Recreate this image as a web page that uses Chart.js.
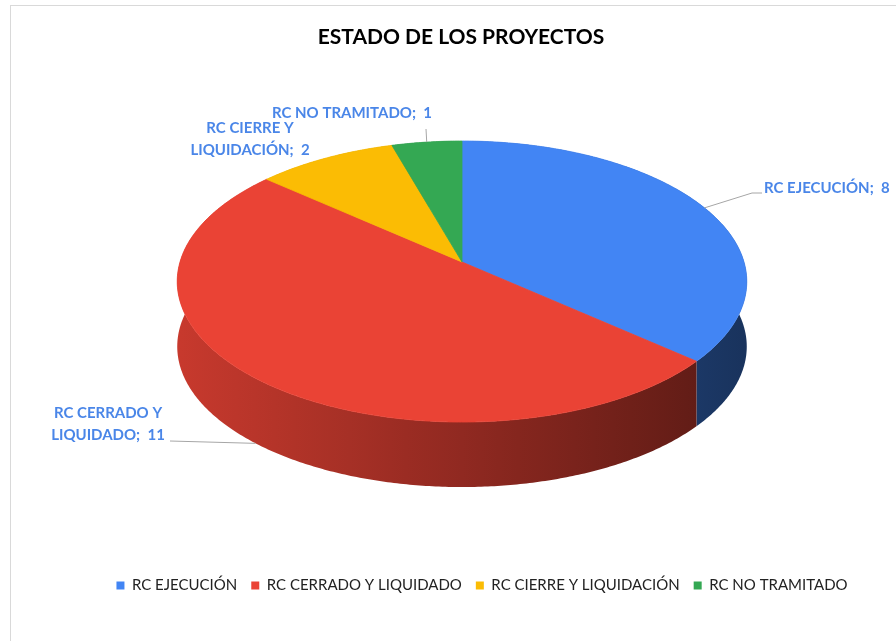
<!DOCTYPE html>
<html>
<head>
<meta charset="utf-8">
<script src="https://cdn.jsdelivr.net/npm/chart.js@4.4.1/dist/chart.umd.min.js"></script>
<style>
html, body { margin: 0; padding: 0; background: #fff; }
#marco { position: absolute; left: 10px; top: 5px; right: 0; bottom: 0; border-left: 1px solid #d9d9d9; border-top: 1px solid #d9d9d9; }
#caja { position: absolute; left: 0; top: 0; width: 896px; height: 641px; }
</style>
</head>
<body>
<div id="marco"></div>
<div id="caja"><canvas id="chart_1"></canvas></div>
<script>
// datos
var categorias = ['RC EJECUCIÓN', 'RC CERRADO Y LIQUIDADO', 'RC CIERRE Y LIQUIDACIÓN', 'RC NO TRAMITADO'];
var proyectos = [8, 11, 2, 1];
var colores = ['#4285f4', '#ea4335', '#fbbc04', '#34a853'];

var fuente = 'Lato, "Liberation Sans", sans-serif';

function oscurecer(hex, f) {
    var r = parseInt(hex.substr(1, 2), 16), g = parseInt(hex.substr(3, 2), 16), b = parseInt(hex.substr(5, 2), 16);
    return 'rgb(' + Math.round(r * f) + ',' + Math.round(g * f) + ',' + Math.round(b * f) + ')';
}

// pastel en 3d: los angulos de cada arco se proyectan sobre un disco inclinado
var pastel3d = {
    id: 'pastel3d',
    punto: function(o, a, abajo) {
        var u = Math.cos(a), v = Math.sin(a);
        var k = 1 / (1 - o.persp * v);
        return [o.cx + o.rx * u * k, o.cy + o.ry * v * k + (abajo ? o.alto : 0)];
    },
    afterLayout: function(chart, args, o) {
        // la leyenda va un poco corrida a la derecha
        if (chart.legend) {
            chart.legend.left += o.corrimientoLeyenda;
            chart.legend.right += o.corrimientoLeyenda;
        }
    },
    beforeDatasetsDraw: function(chart, args, o) {
        var ctx = chart.ctx, self = this;
        var meta = chart.getDatasetMeta(0);
        var bg = chart.data.datasets[0].backgroundColor;
        ctx.save();
        // paredes laterales, con luz desde la izquierda
        meta.data.forEach(function(arc, i) {
            var n = Math.max(2, Math.ceil((arc.endAngle - arc.startAngle) / 0.01));
            var arriba = [], abajo = [];
            for (var j = 0; j <= n; j++) {
                var a = arc.startAngle + (arc.endAngle - arc.startAngle) * j / n;
                arriba.push(self.punto(o, a));
                abajo.push(self.punto(o, a, true));
            }
            var grad = ctx.createLinearGradient(o.cx - o.rx, 0, o.cx + o.rx, 0);
            for (var s = 0; s <= 10; s++) {
                var u = -1 + s / 5;
                grad.addColorStop(s / 10, oscurecer(bg[i], 0.615 - 0.235 * u));
            }
            ctx.beginPath();
            arriba.forEach(function(p, j) { j ? ctx.lineTo(p[0], p[1]) : ctx.moveTo(p[0], p[1]); });
            abajo.reverse().forEach(function(p) { ctx.lineTo(p[0], p[1]); });
            ctx.closePath();
            ctx.fillStyle = grad;
            ctx.fill();
        });
        // cara superior
        meta.data.forEach(function(arc, i) {
            var n = Math.max(2, Math.ceil((arc.endAngle - arc.startAngle) / 0.01));
            ctx.beginPath();
            ctx.moveTo(o.cx, o.cy);
            for (var j = 0; j <= n; j++) {
                var p = self.punto(o, arc.startAngle + (arc.endAngle - arc.startAngle) * j / n);
                ctx.lineTo(p[0], p[1]);
            }
            ctx.closePath();
            ctx.fillStyle = bg[i]; ctx.strokeStyle = bg[i]; ctx.lineWidth = 0.8;
            ctx.fill(); ctx.stroke();
        });
        ctx.restore();
        return false;
    },
    afterDraw: function(chart, args, o) {
        var ctx = chart.ctx, self = this;
        var meta = chart.getDatasetMeta(0);
        ctx.save();
        ctx.font = 'bold 15px ' + fuente;
        ctx.textBaseline = 'middle';
        meta.data.forEach(function(arc, i) {
            var e = o.etiquetas[i];
            var medio = (arc.startAngle + arc.endAngle) / 2;
            var ancla = self.punto(o, medio, e.pared);
            if (e.guia.length) {
                ctx.beginPath();
                ctx.moveTo(ancla[0], ancla[1]);
                e.guia.forEach(function(p) { ctx.lineTo(p[0], p[1]); });
                ctx.strokeStyle = '#a6a6a6'; ctx.lineWidth = 1;
                ctx.stroke();
            }
            var texto = chart.data.labels[i] + ';  ' + chart.data.datasets[0].data[i];
            var lineas = [texto];
            if (e.corte) {
                var k = texto.indexOf(e.corte);
                lineas = [texto.slice(0, k).trim(), texto.slice(k)];
            }
            ctx.fillStyle = '#4a86e8';
            ctx.textAlign = e.align;
            lineas.forEach(function(l, n) { ctx.fillText(l, e.x, e.y + n * 22); });
        });
        ctx.restore();
    }
};

new Chart(document.getElementById('chart_1'), {
    type: 'pie',
    data: {
        labels: categorias,
        datasets: [{ data: proyectos, backgroundColor: colores, borderWidth: 0 }]
    },
    options: {
        responsive: true,
        maintainAspectRatio: false,
        animation: false,
        layout: { padding: { left: 26, bottom: 38 } },
        plugins: {
            title: {
                display: true,
                text: 'ESTADO DE LOS PROYECTOS',
                color: '#000',
                font: { family: fuente, size: 21, weight: 'bold' },
                padding: { top: 25, bottom: 10 }
            },
            legend: {
                position: 'bottom',
                labels: {
                    color: '#222',
                    boxWidth: 8,
                    boxHeight: 8,
                    padding: 14,
                    font: { family: fuente, size: 15 }
                }
            },
            tooltip: { enabled: false },
            pastel3d: {
                cx: 462, cy: 262, rx: 282, ry: 137.8, persp: 0.139, alto: 65,
                corrimientoLeyenda: 21,
                etiquetas: [
                    { x: 764, y: 188, align: 'left', guia: [[752, 193], [762, 193]] },
                    { x: 108, y: 413, align: 'center', corte: 'LIQUIDADO', pared: true, guia: [[170, 441]] },
                    { x: 250, y: 128, align: 'center', corte: 'LIQUIDACIÓN', guia: [] },
                    { x: 352, y: 113, align: 'center', guia: [[426, 129]] }
                ]
            }
        }
    },
    plugins: [pastel3d]
});
</script>
</body>
</html>
